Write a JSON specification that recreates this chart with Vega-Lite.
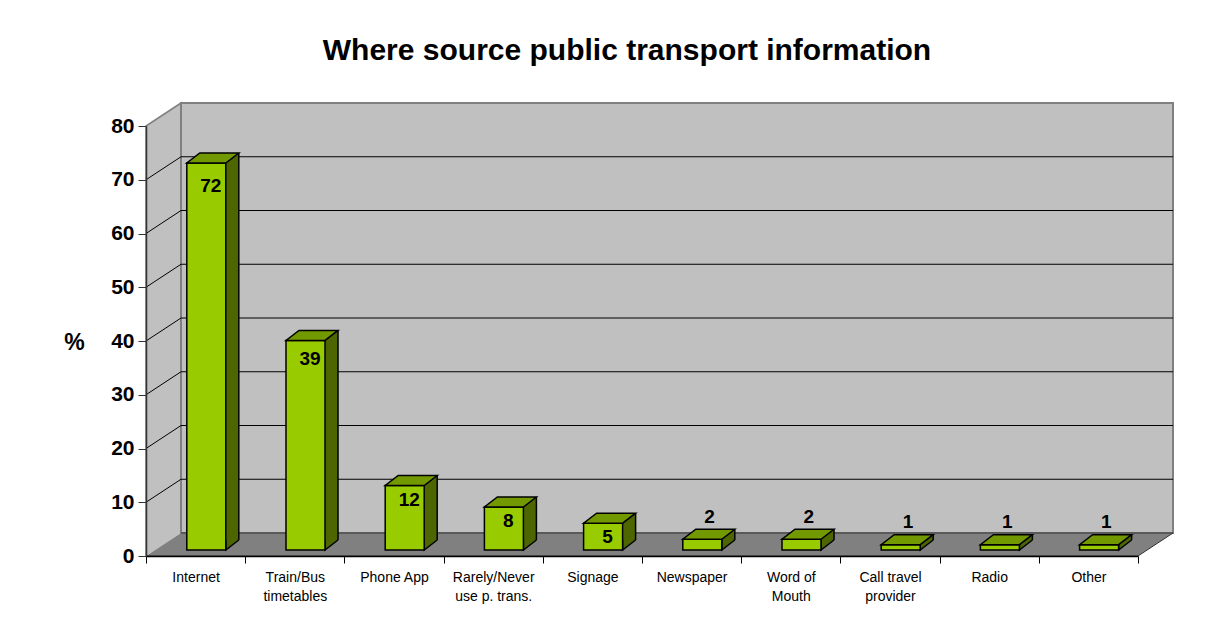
{
  "$schema": "https://vega.github.io/schema/vega-lite/v6.json",
  "width": 992,
  "height": 430,
  "autosize": {"type": "none"},
  "padding": {"left": 146, "top": 126, "right": 73, "bottom": 69},
  "background": "#ffffff",
  "config": {"view": {"stroke": null}, "font": "Liberation Sans"},
  "title": {
    "text": "Where source public transport information",
    "font": "Liberation Sans",
    "fontSize": 30,
    "fontWeight": "bold",
    "color": "#000000",
    "anchor": "middle",
    "frame": "group",
    "offset": 33,
    "dx": -15
  },
  "datasets": {
    "bars": [
      {"source": "Internet", "pct": 72},
      {"source": "Train/Bus timetables", "pct": 39},
      {"source": "Phone App", "pct": 12},
      {"source": "Rarely/Never use p. trans.", "pct": 8},
      {"source": "Signage", "pct": 5},
      {"source": "Newspaper", "pct": 2},
      {"source": "Word of Mouth", "pct": 2},
      {"source": "Call travel provider", "pct": 1},
      {"source": "Radio", "pct": 1},
      {"source": "Other", "pct": 1}
    ],
    "grid": [{"v": 10}, {"v": 20}, {"v": 30}, {"v": 40}, {"v": 50}, {"v": 60}, {"v": 70}],
    "one": [{"k": 0}]
  },
  "layer": [
    {
      "layer": [
        {
          "data": {"name": "one"},
          "mark": {"type": "point", "shape": "M0,0 L0,-430 L35,-453 L35,-23", "size": 4, "filled": true, "fill": "#C0C0C0", "stroke": "#808080", "strokeWidth": 1.5, "opacity": 1},
          "encoding": {
            "x": {"datum": "Internet", "type": "nominal", "bandPosition": 0, "scale": {"type": "band", "domain": ["Internet", "Train/Bus timetables", "Phone App", "Rarely/Never use p. trans.", "Signage", "Newspaper", "Word of Mouth", "Call travel provider", "Radio", "Other"], "paddingInner": 0, "paddingOuter": 0}},
            "y": {"datum": 0, "type": "quantitative", "scale": {"domain": [0, 80], "nice": false, "zero": true}}
          }
        },
        {
          "data": {"name": "one"},
          "mark": {"type": "point", "shape": "M35,-23 L1027,-23 L1027,-453 L35,-453 Z", "size": 4, "filled": true, "fill": "#C0C0C0", "stroke": "#808080", "strokeWidth": 2, "opacity": 1},
          "encoding": {
            "x": {"datum": "Internet", "type": "nominal", "bandPosition": 0, "scale": {"type": "band", "domain": ["Internet", "Train/Bus timetables", "Phone App", "Rarely/Never use p. trans.", "Signage", "Newspaper", "Word of Mouth", "Call travel provider", "Radio", "Other"], "paddingInner": 0, "paddingOuter": 0}},
            "y": {"datum": 0, "type": "quantitative", "scale": {"domain": [0, 80], "nice": false, "zero": true}}
          }
        },
        {
          "data": {"name": "grid"},
          "mark": {"type": "point", "shape": "M0,0 L35,-23 L1027,-23", "size": 4, "filled": false, "stroke": "#000000", "strokeWidth": 1, "opacity": 1},
          "encoding": {
            "x": {"datum": "Internet", "type": "nominal", "bandPosition": 0, "scale": {"type": "band", "domain": ["Internet", "Train/Bus timetables", "Phone App", "Rarely/Never use p. trans.", "Signage", "Newspaper", "Word of Mouth", "Call travel provider", "Radio", "Other"], "paddingInner": 0, "paddingOuter": 0}},
            "y": {"field": "v", "type": "quantitative", "scale": {"domain": [0, 80], "nice": false, "zero": true}}
          }
        },
        {
          "data": {"name": "one"},
          "mark": {"type": "point", "shape": "M0,0 L992,0 L1027,-23 L35,-23", "size": 4, "filled": true, "fill": "#808080", "stroke": "#333333", "strokeWidth": 1, "opacity": 1},
          "encoding": {
            "x": {"datum": "Internet", "type": "nominal", "bandPosition": 0, "scale": {"type": "band", "domain": ["Internet", "Train/Bus timetables", "Phone App", "Rarely/Never use p. trans.", "Signage", "Newspaper", "Word of Mouth", "Call travel provider", "Radio", "Other"], "paddingInner": 0, "paddingOuter": 0}},
            "y": {"datum": 0, "type": "quantitative", "scale": {"domain": [0, 80], "nice": false, "zero": true}}
          }
        },
        {
          "data": {"name": "bars"},
          "mark": {"type": "bar", "width": 13, "fill": "#4D6600", "xOffset": 36.7, "yOffset": -16, "y2Offset": -16},
          "encoding": {
            "x": {"field": "source", "type": "nominal", "scale": {"type": "band", "domain": ["Internet", "Train/Bus timetables", "Phone App", "Rarely/Never use p. trans.", "Signage", "Newspaper", "Word of Mouth", "Call travel provider", "Radio", "Other"], "paddingInner": 0, "paddingOuter": 0}},
            "y": {"field": "pct", "type": "quantitative", "scale": {"domain": [0, 80], "nice": false, "zero": true}}
          }
        },
        {
          "data": {"name": "bars"},
          "mark": {"type": "rule", "stroke": "#000000", "strokeWidth": 1.5, "xOffset": 43.2, "yOffset": -16, "y2Offset": -16},
          "encoding": {
            "x": {"field": "source", "type": "nominal", "scale": {"type": "band", "domain": ["Internet", "Train/Bus timetables", "Phone App", "Rarely/Never use p. trans.", "Signage", "Newspaper", "Word of Mouth", "Call travel provider", "Radio", "Other"], "paddingInner": 0, "paddingOuter": 0}},
            "y": {"field": "pct", "type": "quantitative", "scale": {"domain": [0, 80], "nice": false, "zero": true}},
            "y2": {"datum": 0}
          }
        },
        {
          "data": {"name": "bars"},
          "mark": {"type": "point", "shape": "M30.2,-16 L30.2,-6 L43.2,-16", "size": 4, "filled": true, "fill": "#4D6600", "stroke": "#000000", "strokeWidth": 1.5, "opacity": 1},
          "encoding": {
            "x": {"field": "source", "type": "nominal", "scale": {"type": "band", "domain": ["Internet", "Train/Bus timetables", "Phone App", "Rarely/Never use p. trans.", "Signage", "Newspaper", "Word of Mouth", "Call travel provider", "Radio", "Other"], "paddingInner": 0, "paddingOuter": 0}},
            "y": {"datum": 0, "type": "quantitative", "scale": {"domain": [0, 80], "nice": false, "zero": true}}
          }
        },
        {
          "data": {"name": "bars"},
          "mark": {"type": "bar", "width": 39, "fill": "#99CC00", "stroke": "#000000", "strokeWidth": 1.5, "xOffset": 10.7, "yOffset": -6, "y2Offset": -6},
          "encoding": {
            "x": {
              "field": "source", "type": "nominal",
              "scale": {"type": "band", "domain": ["Internet", "Train/Bus timetables", "Phone App", "Rarely/Never use p. trans.", "Signage", "Newspaper", "Word of Mouth", "Call travel provider", "Radio", "Other"], "paddingInner": 0, "paddingOuter": 0},
              "axis": {
                "title": null,
                "tickBand": "extent",
                "tickSize": 7,
                "tickColor": "#000000",
                "domainColor": "#000000",
                "domainWidth": 1.5,
                "labelFont": "Liberation Sans",
                "labelFontSize": 14,
                "labelColor": "#000000",
                "labelPadding": 7,
                "labelAngle": 0,
                "labelAlign": "center",
                "labelBaseline": "top",
                "labelFlush": false,
                "labelLineHeight": 19,
                "labelExpr": "datum.label == 'Train/Bus timetables' ? ['Train/Bus', 'timetables'] : datum.label == 'Rarely/Never use p. trans.' ? ['Rarely/Never', 'use p. trans.'] : datum.label == 'Word of Mouth' ? ['Word of', 'Mouth'] : datum.label == 'Call travel provider' ? ['Call travel', 'provider'] : datum.label",
                "zindex": 1
              }
            },
            "y": {
              "field": "pct", "type": "quantitative",
              "scale": {"domain": [0, 80], "nice": false, "zero": true},
              "axis": {
                "title": "%",
                "titleAngle": 0,
                "titleFont": "Liberation Sans",
                "titleFontSize": 23,
                "titleFontWeight": "bold",
                "titleColor": "#000000",
                "titleX": -72,
                "titleY": 216,
                "titleAlign": "center",
                "titleBaseline": "middle",
                "values": [0, 10, 20, 30, 40, 50, 60, 70, 80],
                "labelFont": "Liberation Sans",
                "labelFontSize": 21,
                "labelFontWeight": "bold",
                "labelColor": "#000000",
                "labelPadding": 4,
                "tickSize": 8,
                "tickColor": "#333333",
                "domainColor": "#333333",
                "domainWidth": 1.5,
                "grid": false,
                "zindex": 1
              }
            }
          }
        },
        {
          "data": {"name": "bars"},
          "mark": {"type": "point", "shape": "M-8.8,-6 L30.2,-6 L43.2,-16 L4.2,-16 Z", "size": 4, "filled": true, "fill": "#739900", "stroke": "#000000", "strokeWidth": 1.5, "opacity": 1},
          "encoding": {
            "x": {"field": "source", "type": "nominal", "scale": {"type": "band", "domain": ["Internet", "Train/Bus timetables", "Phone App", "Rarely/Never use p. trans.", "Signage", "Newspaper", "Word of Mouth", "Call travel provider", "Radio", "Other"], "paddingInner": 0, "paddingOuter": 0}},
            "y": {"field": "pct", "type": "quantitative", "scale": {"domain": [0, 80], "nice": false, "zero": true}}
          }
        }
      ]
    },
    {
      "layer": [
        {
          "data": {"name": "bars"},
          "transform": [{"filter": "datum.pct >= 5"}],
          "mark": {"type": "text", "font": "Liberation Sans", "fontSize": 19, "fontWeight": "bold", "fill": "#000000", "dx": 15.2, "baseline": "middle", "align": "center"},
          "encoding": {
            "x": {"field": "source", "type": "nominal", "scale": {"type": "band", "domain": ["Internet", "Train/Bus timetables", "Phone App", "Rarely/Never use p. trans.", "Signage", "Newspaper", "Word of Mouth", "Call travel provider", "Radio", "Other"], "paddingInner": 0, "paddingOuter": 0}},
            "y": {"field": "pct", "type": "quantitative", "scale": {"domain": [1.3, 83.45], "nice": false, "zero": false}, "axis": null},
            "text": {"field": "pct", "type": "quantitative"}
          }
        },
        {
          "data": {"name": "bars"},
          "transform": [{"filter": "datum.pct < 5"}],
          "mark": {"type": "text", "font": "Liberation Sans", "fontSize": 19, "fontWeight": "bold", "fill": "#000000", "dx": 18, "dy": -35.5, "baseline": "middle", "align": "center"},
          "encoding": {
            "x": {"field": "source", "type": "nominal", "scale": {"type": "band", "domain": ["Internet", "Train/Bus timetables", "Phone App", "Rarely/Never use p. trans.", "Signage", "Newspaper", "Word of Mouth", "Call travel provider", "Radio", "Other"], "paddingInner": 0, "paddingOuter": 0}},
            "y": {"field": "pct", "type": "quantitative", "scale": {"domain": [1.3, 83.45], "nice": false, "zero": false}, "axis": null},
            "text": {"field": "pct", "type": "quantitative"}
          }
        }
      ]
    }
  ],
  "resolve": {"scale": {"y": "independent"}}
}
